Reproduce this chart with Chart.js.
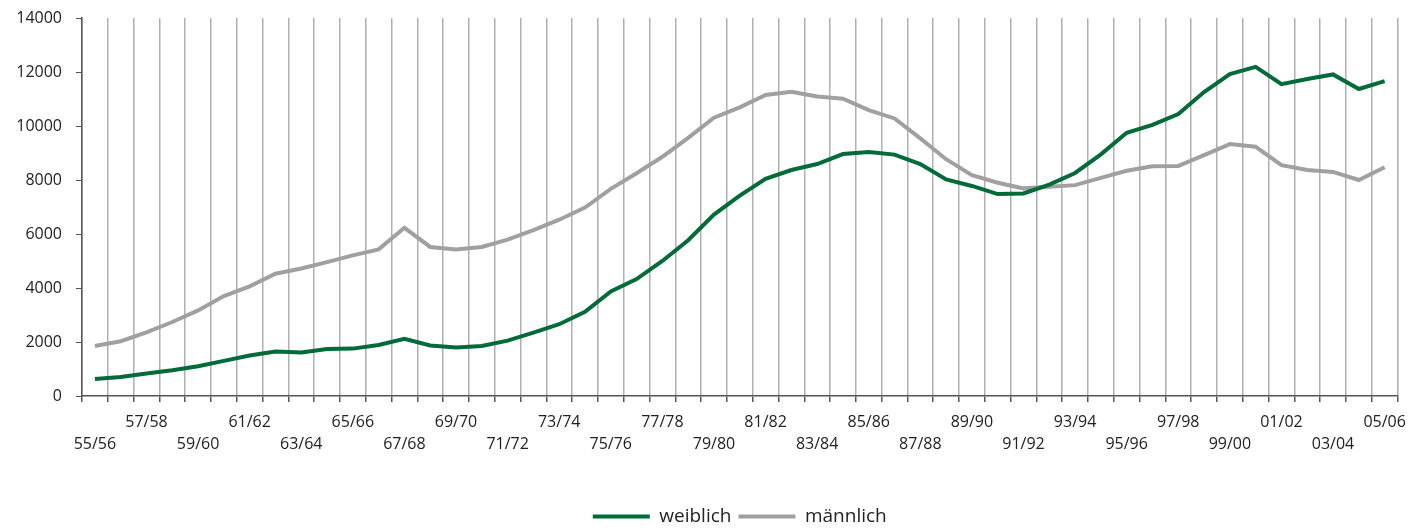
<!DOCTYPE html>
<html lang="de">
<head>
<meta charset="utf-8">
<title>weiblich / männlich</title>
<script src="https://cdn.jsdelivr.net/npm/chart.js@4.4.1/dist/chart.umd.min.js"></script>
<style>
  html, body { margin: 0; padding: 0; background: #fff; }
  #wrap { width: 1415px; height: 528px; }
</style>
</head>
<body>
<div id="wrap"><canvas id="chart" width="1415" height="528"></canvas></div>
<script>
// Studienjahre 1955/56 bis 2005/06
const years = [
  "55/56", "56/57", "57/58", "58/59", "59/60", "60/61", "61/62", "62/63", "63/64", "64/65",
  "65/66", "66/67", "67/68", "68/69", "69/70", "70/71", "71/72", "72/73", "73/74", "74/75",
  "75/76", "76/77", "77/78", "78/79", "79/80", "80/81", "81/82", "82/83", "83/84", "84/85",
  "85/86", "86/87", "87/88", "88/89", "89/90", "90/91", "91/92", "92/93", "93/94", "94/95",
  "95/96", "96/97", "97/98", "98/99", "99/00", "00/01", "01/02", "02/03", "03/04", "04/05",
  "05/06"
];

const weiblich = [
  630, 700, 830, 950, 1100, 1300, 1500, 1650, 1610, 1740,
  1755, 1890, 2120, 1870, 1800, 1850, 2050, 2350, 2660, 3120,
  3870, 4330, 5000, 5770, 6720, 7420, 8040, 8370, 8590, 8960,
  9040, 8940, 8590, 8020, 7780, 7480, 7500, 7830, 8260, 8950,
  9750, 10040, 10440, 11260, 11920, 12190, 11550, 11740, 11910, 11370,
  11660
];

const maennlich = [
  1850, 2030, 2360, 2740, 3170, 3700, 4060, 4530, 4720, 4960,
  5210, 5430, 6230, 5520, 5430, 5520, 5790, 6140, 6530, 6980,
  7670, 8250, 8860, 9560, 10310, 10690, 11150, 11270, 11090, 11010,
  10590, 10280, 9540, 8770, 8180, 7900, 7690, 7750, 7810, 8080,
  8340, 8510, 8520, 8920, 9330, 9230, 8550, 8370, 8300, 8000,
  8470
];

const seriesNames = ["weiblich", "männlich"];
const yTicks = [0, 2000, 4000, 6000, 8000, 10000, 12000, 14000];

const GREEN = "#006b38";
const GREY = "#a0a0a0";
const AXIS = "#555555";
const TEXT = "#222222";
const FONT = "'Open Sans', 'Noto Sans', sans-serif";

// jedes zweite Jahr beschriften, abwechselnd obere / untere Zeile
function xTickLabel(value, index) {
  if (index % 2) return "";
  const label = this.getLabelForValue(value);
  return (index / 2) % 2 === 0 ? ["", label] : [label];
}

new Chart(document.getElementById("chart").getContext("2d"), {
  type: "line",
  data: {
    labels: years,
    datasets: [
      { label: seriesNames[0], data: weiblich, borderColor: GREEN, backgroundColor: GREEN, borderWidth: 4, tension: 0, pointRadius: 0 },
      { label: seriesNames[1], data: maennlich, borderColor: GREY, backgroundColor: GREY, borderWidth: 4, tension: 0, pointRadius: 0 }
    ]
  },
  options: {
    responsive: false,
    animation: false,
    devicePixelRatio: 1,
    layout: { padding: { top: 18, left: 0, right: 14, bottom: -8 } },
    plugins: {
      tooltip: { enabled: false },
      legend: {
        position: "bottom",
        fullSize: false,
        labels: {
          color: TEXT,
          font: { family: FONT, size: 19 },
          boxWidth: 57,
          boxHeight: 4,
          padding: 7,
          generateLabels(chart) {
            return chart.data.datasets.map((ds, i) => ({
              text: ds.label,
              fillStyle: ds.borderColor,
              strokeStyle: ds.borderColor,
              lineWidth: 0,
              fontColor: TEXT,
              datasetIndex: i,
              hidden: false
            }));
          }
        }
      }
    },
    scales: {
      x: {
        offset: true,
        grid: { offset: true, color: "#b0b0b0", lineWidth: 1.5, tickColor: AXIS, tickLength: 6, drawTicks: true },
        border: { color: AXIS, width: 1.5 },
        ticks: {
          autoSkip: false,
          maxRotation: 0,
          minRotation: 0,
          padding: 9,
          color: TEXT,
          font: { family: FONT, size: 16, lineHeight: 1.4 },
          callback: xTickLabel
        },
        afterFit(scale) { scale.height = 104; }
      },
      y: {
        min: 0,
        max: 14000,
        afterBuildTicks(scale) { scale.ticks = yTicks.map(v => ({ value: v })); },
        grid: { drawOnChartArea: false, tickColor: AXIS, tickLength: 6 },
        border: { color: AXIS, width: 1.5 },
        ticks: {
          padding: 14,
          color: TEXT,
          font: { family: FONT, size: 16 },
          callback: v => String(v)
        },
        afterFit(scale) {
          scale.width = 82;
          scale.paddingTop = 0;
          scale.paddingBottom = 0;
        }
      }
    }
  }
});
</script>
</body>
</html>
